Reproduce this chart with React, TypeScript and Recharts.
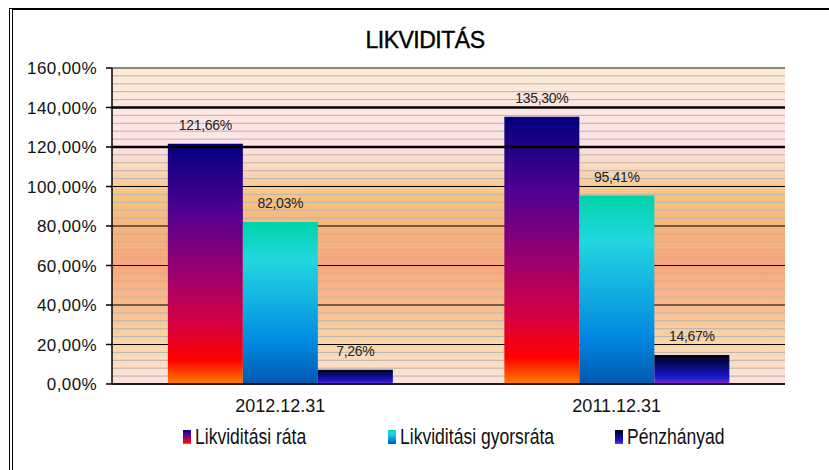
import {
  BarChart,
  Bar,
  XAxis,
  YAxis,
  CartesianGrid,
  LabelList,
  Legend,
  ReferenceLine,
} from "recharts";

const categories = ["2012.12.31", "2011.12.31"];
const likviditasiRata = [121.66, 135.3];
const gyorsrata = [82.03, 95.41];
const penzhanyad = [7.26, 14.67];

const seriesNames = ["Likviditási ráta", "Likviditási gyorsráta", "Pénzhányad"];
const yTicks = [0, 20, 40, 60, 80, 100, 120, 140, 160];
const minorTicks = Array.from({ length: 41 }, (_, i) => i * 4);
const heavyLines = [120, 140];

const data = categories.map((c, i) => ({
  name: c,
  rata: likviditasiRata[i],
  gyors: gyorsrata[i],
  penz: penzhanyad[i],
}));

const fmt = (v: number) => v.toFixed(2).replace(".", ",") + "%";

const SANS = "'Liberation Sans', Arial, sans-serif";

const legendItems = [
  { name: seriesNames[0], fill: "url(#gRata)", left: 0 },
  { name: seriesNames[1], fill: "url(#gGyors)", left: 205 },
  { name: seriesNames[2], fill: "url(#gPenz)", left: 432 },
];

const SQUEEZE = 0.78;

// legend text in the original is tall and narrow, so squeeze it
function LegendBox() {
  return (
    <div style={{ position: "relative", width: 560, height: 25 }}>
      {legendItems.map((it) => (
        <div
          key={it.name}
          style={{
            position: "absolute",
            left: it.left,
            top: 0,
            height: 25,
            display: "flex",
            alignItems: "center",
            whiteSpace: "nowrap",
          }}
        >
          <svg width={12} height={14}>
            <rect x={0} y={0} width={8} height={14} fill={it.fill} />
          </svg>
          <span
            style={{
              display: "inline-block",
              transform: `scaleX(${SQUEEZE})`,
              transformOrigin: "left center",
              fontFamily: SANS,
              fontSize: 22.5,
              color: "#111",
            }}
          >
            {it.name}
          </span>
        </div>
      ))}
    </div>
  );
}

const labelStyle = { fill: "#222", fontSize: 14, fontFamily: SANS, letterSpacing: -0.3 };

export default function App() {
  return (
    <div
      style={{
        position: "absolute",
        left: 0,
        top: 0,
        width: 829,
        height: 470,
        overflow: "hidden",
        background: "#fff",
      }}
    >
      <div
        style={{
          position: "absolute",
          left: 9,
          top: 8,
          width: 900,
          height: 600,
          borderTop: "2px solid #000",
          borderLeft: "4px double #000",
        }}
      />
      <div
        style={{
          position: "absolute",
          left: 0,
          width: 850,
          top: 27,
          textAlign: "center",
          fontFamily: SANS,
          fontSize: 23,
          color: "#000",
          letterSpacing: -0.5,
          WebkitTextStroke: "0.4px #000",
        }}
      >
        LIKVIDITÁS
      </div>
      <div style={{ position: "absolute", left: 0, top: 0 }}>
        <BarChart
          width={829}
          height={470}
          data={data}
          margin={{ top: 68, right: 44, left: 12, bottom: 21 }}
          barGap={0}
          barCategoryGap="16.6%"
        >
          <defs>
            <linearGradient id="bg" x1="0" y1="0" x2="0" y2="1">
              <stop offset="0" stopColor="#FDEBD0" />
              <stop offset="0.12" stopColor="#FEE6E0" />
              <stop offset="0.24" stopColor="#FEE3E6" />
              <stop offset="0.32" stopColor="#FCD6B8" />
              <stop offset="0.4" stopColor="#F9C47E" />
              <stop offset="0.52" stopColor="#F8B27C" />
              <stop offset="0.63" stopColor="#F7A87E" />
              <stop offset="0.76" stopColor="#F9BE90" />
              <stop offset="0.87" stopColor="#FAD6A6" />
              <stop offset="1" stopColor="#FDE4E2" />
            </linearGradient>
            <linearGradient id="gRata" x1="0" y1="0" x2="0" y2="1">
              <stop offset="0" stopColor="#000080" />
              <stop offset="0.3" stopColor="#560090" />
              <stop offset="0.55" stopColor="#A0006C" />
              <stop offset="0.76" stopColor="#D8003E" />
              <stop offset="0.9" stopColor="#FF0000" />
              <stop offset="1" stopColor="#FF8000" />
            </linearGradient>
            <linearGradient id="gGyors" x1="0" y1="0" x2="0" y2="1">
              <stop offset="0" stopColor="#00D4A8" />
              <stop offset="0.24" stopColor="#22D6E0" />
              <stop offset="0.5" stopColor="#12B0E0" />
              <stop offset="0.75" stopColor="#0088E0" />
              <stop offset="1" stopColor="#0058B0" />
            </linearGradient>
            <linearGradient id="gPenz" x1="0" y1="0" x2="0" y2="1">
              <stop offset="0" stopColor="#000018" />
              <stop offset="0.45" stopColor="#0C0C88" />
              <stop offset="0.78" stopColor="#1A1AD0" />
              <stop offset="1" stopColor="#8A2AC8" />
            </linearGradient>
          </defs>
          <CartesianGrid
            vertical={false}
            horizontalValues={minorTicks}
            stroke="#B4B4B4"
            strokeWidth={1}
            fill="url(#bg)"
            fillOpacity={1}
          />
          <CartesianGrid vertical={false} stroke="#000" strokeWidth={1} />
          {heavyLines.map((v) => (
            <ReferenceLine key={v} y={v} stroke="#000" strokeWidth={2.5} />
          ))}
          <ReferenceLine y={160} stroke="#888" strokeWidth={2} />
          <XAxis
            dataKey="name"
            height={40}
            tickLine={false}
            axisLine={{ stroke: "#000", strokeWidth: 1.5 }}
            tick={{ fill: "#111", fontSize: 18, fontFamily: SANS }}
            tickMargin={9}
          />
          <YAxis
            width={100}
            domain={[0, 160]}
            ticks={yTicks}
            tickFormatter={fmt}
            axisLine={{ stroke: "#000", strokeWidth: 1.5 }}
            tickLine={{ stroke: "#000", strokeWidth: 1.5 }}
            tickSize={6}
            tickMargin={9}
            tick={{ fill: "#111", fontSize: 17, fontFamily: SANS, letterSpacing: 0.4 }}
            interval={0}
          />
          <YAxis
            yAxisId="right"
            orientation="right"
            width={0}
            domain={[0, 160]}
            tick={false}
            tickLine={false}
            axisLine={{ stroke: "#888", strokeWidth: 2 }}
          />
          <Legend
            verticalAlign="bottom"
            content={() => <LegendBox />}
            wrapperStyle={{ left: 183, width: 560, height: 25 }}
          />
          <Bar dataKey="rata" name={seriesNames[0]} fill="url(#gRata)" isAnimationActive={false}>
            <LabelList dataKey="rata" position="top" offset={14} formatter={(v: any) => fmt(Number(v))} style={labelStyle} />
          </Bar>
          <Bar dataKey="gyors" name={seriesNames[1]} fill="url(#gGyors)" isAnimationActive={false}>
            <LabelList dataKey="gyors" position="top" offset={14} formatter={(v: any) => fmt(Number(v))} style={labelStyle} />
          </Bar>
          <Bar dataKey="penz" name={seriesNames[2]} fill="url(#gPenz)" isAnimationActive={false}>
            <LabelList dataKey="penz" position="top" offset={14} formatter={(v: any) => fmt(Number(v))} style={labelStyle} />
          </Bar>
        </BarChart>
      </div>
    </div>
  );
}
